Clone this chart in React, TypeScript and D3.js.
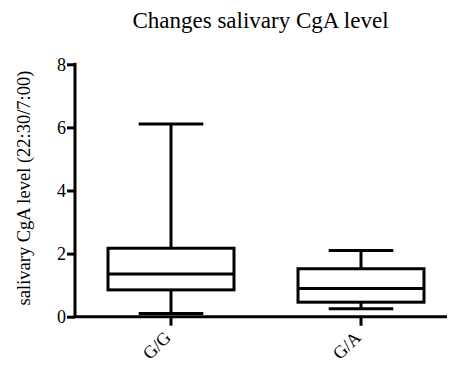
import React, { useEffect, useRef } from 'react';
import * as d3 from 'd3';

const groups = ['G/G', 'G/A'];
const mins = [0.1, 0.25];
const q1s = [0.85, 0.46];
const medians = [1.35, 0.89];
const q3s = [2.17, 1.52];
const maxs = [6.11, 2.1];
const yTicks = [0, 2, 4, 6, 8];

const width = 449;
const height = 367;
const margins = { top: 64.3, bottom: 316.7, left: 75, right: 447 };
const font = '"Liberation Serif", "Times New Roman", serif';

export default function App() {
    const ref = useRef<SVGSVGElement>(null);

    useEffect(() => {
        const svg = d3.select(ref.current);
        svg.selectAll('*').remove();

        const y = d3.scaleLinear().domain([0, 8]).range([margins.bottom, margins.top]);
        const x = d3.scaleBand().domain(groups).range([76, 456]);
        const bw = x.bandwidth();
        const boxW = bw * 0.663;
        const capW = bw * 0.34;

        // title
        svg.append('text')
            .attr('x', 260.5)
            .attr('y', 28)
            .attr('text-anchor', 'middle')
            .style('font-family', font)
            .style('font-size', '23px')
            .text('Changes salivary CgA level');

        // y label
        svg.append('text')
            .attr('transform', 'translate(30,188) rotate(-90)')
            .attr('text-anchor', 'middle')
            .style('font-family', font)
            .style('font-size', '18.5px')
            .text('salivary CgA level (22:30/7:00)');

        // y axis
        const yAxis = d3.axisLeft(y).tickValues(yTicks).tickSize(8).tickPadding(1).tickSizeOuter(0);
        const gy = svg.append('g')
            .attr('transform', `translate(${margins.left},0)`)
            .call(yAxis);
        gy.attr('font-family', null).attr('font-size', null);
        gy.select('.domain').attr('stroke-width', 3).attr('d', `M0,${margins.top - 1.5}V${margins.bottom}`);
        gy.selectAll('.tick line').attr('stroke-width', 3);
        gy.selectAll('.tick text')
            .style('font-family', font)
            .style('font-size', '18px')
            .attr('fill', '#000');

        // x axis
        const gx = svg.append('g')
            .attr('transform', `translate(0,${margins.bottom})`);
        gx.append('line')
            .attr('x1', margins.left - 1.5)
            .attr('x2', margins.right)
            .attr('stroke', '#000')
            .attr('stroke-width', 3);
        groups.forEach(g => {
            const cx = (x(g) as number) + bw / 2;
            gx.append('line')
                .attr('x1', cx).attr('x2', cx)
                .attr('y1', 0).attr('y2', 9)
                .attr('stroke', '#000')
                .attr('stroke-width', 3);
            gx.append('text')
                .attr('transform', `translate(${cx + 1},${22}) rotate(-45)`)
                .attr('text-anchor', 'end')
                .style('font-family', font)
                .style('font-size', '18px')
                .text(g);
        });

        // boxes
        groups.forEach((g, i) => {
            const cx = (x(g) as number) + bw / 2;
            const b = svg.append('g')
                .attr('stroke', '#000')
                .attr('stroke-width', 3)
                .attr('fill', 'none');
            b.append('line')
                .attr('x1', cx).attr('x2', cx)
                .attr('y1', y(maxs[i])).attr('y2', y(q3s[i]));
            b.append('line')
                .attr('x1', cx).attr('x2', cx)
                .attr('y1', y(q1s[i])).attr('y2', y(mins[i]));
            [mins[i], maxs[i]].forEach(v => {
                b.append('line')
                    .attr('x1', cx - capW / 2).attr('x2', cx + capW / 2)
                    .attr('y1', y(v)).attr('y2', y(v));
            });
            b.append('rect')
                .attr('x', cx - boxW / 2)
                .attr('width', boxW)
                .attr('y', y(q3s[i]))
                .attr('height', y(q1s[i]) - y(q3s[i]));
            b.append('line')
                .attr('x1', cx - boxW / 2).attr('x2', cx + boxW / 2)
                .attr('y1', y(medians[i])).attr('y2', y(medians[i]));
        });
    }, []);

    return (
        <svg ref={ref} width={width} height={height}
            style={{ position: 'absolute', left: 0, top: 0, background: '#fff' }} />
    );
}
